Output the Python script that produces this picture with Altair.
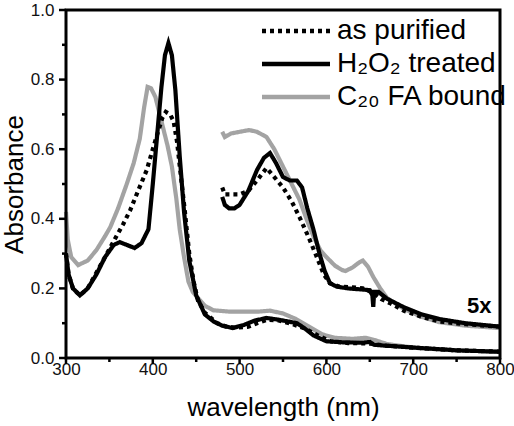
import altair as alt
import pandas as pd

SERIES = ["as purified", "H₂O₂ treated", "C₂₀ FA bound"]

# ---- full spectra (1x) ----
wl_pur = [300, 303, 308, 316, 325, 335, 345, 357, 366, 374, 383, 393, 400, 406, 411, 415, 420, 424, 428, 432, 437, 442, 447, 452, 460, 474, 485, 495, 510, 520, 532, 545, 560, 575, 590, 605, 625, 645, 655, 670, 700, 750, 800]
a_pur = [0.30, 0.24, 0.20, 0.18, 0.20, 0.245, 0.29, 0.345, 0.385, 0.425, 0.48, 0.54, 0.60, 0.65, 0.69, 0.707, 0.70, 0.68, 0.62, 0.53, 0.42, 0.30, 0.22, 0.165, 0.13, 0.10, 0.09, 0.087, 0.09, 0.10, 0.11, 0.108, 0.098, 0.085, 0.065, 0.048, 0.043, 0.042, 0.040, 0.035, 0.03, 0.022, 0.018]

wl_h2o2 = [300, 303, 308, 316, 325, 335, 345, 355, 362, 370, 379, 387, 395, 400, 405, 410, 414, 418, 422, 426, 431, 436, 442, 450, 460, 470, 480, 492, 505, 518, 531, 545, 556, 566, 575, 585, 600, 620, 640, 650, 655, 665, 700, 750, 800]
a_h2o2 = [0.30, 0.24, 0.20, 0.18, 0.20, 0.24, 0.29, 0.325, 0.333, 0.325, 0.316, 0.33, 0.37, 0.50, 0.64, 0.78, 0.87, 0.905, 0.87, 0.77, 0.58, 0.42, 0.28, 0.18, 0.125, 0.105, 0.093, 0.086, 0.095, 0.108, 0.115, 0.11, 0.105, 0.10, 0.085, 0.065, 0.048, 0.045, 0.044, 0.046, 0.038, 0.036, 0.03, 0.022, 0.018]

wl_fa = [300, 302, 306, 314, 325, 335, 345, 351, 360, 370, 378, 385, 390, 394, 398, 403, 408, 412, 417, 422, 427, 431, 436, 441, 446, 451, 460, 470, 490, 520, 535, 550, 565, 580, 595, 610, 630, 645, 655, 670, 700, 750, 800]
a_fa = [0.42, 0.34, 0.29, 0.267, 0.28, 0.31, 0.35, 0.376, 0.43, 0.50, 0.56, 0.63, 0.72, 0.779, 0.775, 0.75, 0.70, 0.66, 0.61, 0.55, 0.46, 0.37, 0.29, 0.22, 0.19, 0.175, 0.15, 0.137, 0.133, 0.133, 0.136, 0.128, 0.112, 0.09, 0.068, 0.058, 0.055, 0.058, 0.052, 0.04, 0.03, 0.022, 0.018]

# ---- 5x expanded visible region ----
wl_pur5 = [480, 483, 490, 500, 510, 520, 531, 540, 550, 560, 569, 579, 589, 597, 604, 615, 630, 642, 654, 663, 673, 690, 710, 730, 760, 800]
a_pur5 = [0.49, 0.47, 0.47, 0.47, 0.48, 0.51, 0.546, 0.52, 0.49, 0.45, 0.405, 0.35, 0.29, 0.24, 0.215, 0.205, 0.203, 0.20, 0.187, 0.17, 0.158, 0.135, 0.118, 0.105, 0.097, 0.09]

wl_h2o25 = [480, 483, 488, 494, 500, 510, 520, 528, 535, 542, 550, 558, 566, 572, 578, 585, 592, 598, 604, 612, 625, 640, 650, 653, 654, 655, 660, 670, 690, 710, 730, 760, 800]
a_h2o25 = [0.463, 0.44, 0.43, 0.43, 0.44, 0.48, 0.54, 0.575, 0.589, 0.56, 0.52, 0.51, 0.51, 0.49, 0.43, 0.37, 0.30, 0.25, 0.215, 0.205, 0.20, 0.197, 0.195, 0.18, 0.147, 0.19, 0.19, 0.17, 0.145, 0.125, 0.112, 0.10, 0.09]

wl_fa5 = [480, 483, 490, 500, 511, 520, 531, 540, 550, 560, 569, 577, 585, 593, 600, 610, 618, 622, 630, 638, 642, 648, 654, 662, 670, 690, 710, 730, 760, 800]
a_fa5 = [0.65, 0.635, 0.645, 0.65, 0.655, 0.65, 0.635, 0.60, 0.55, 0.50, 0.455, 0.40, 0.35, 0.31, 0.29, 0.265, 0.253, 0.25, 0.26, 0.275, 0.28, 0.262, 0.233, 0.20, 0.172, 0.14, 0.118, 0.103, 0.093, 0.086]

x_major = [300, 400, 500, 600, 700, 800]
x_minor = [350, 450, 550, 650, 750]
y_major = [0.0, 0.2, 0.4, 0.6, 0.8, 1.0]
y_minor = [0.1, 0.3, 0.5, 0.7, 0.9]

note_text = ["5x"]
note_wl = [776]
note_a = [0.13]

W, H = 434, 348
X0, X1 = x_major[0], x_major[-1]
Y0, Y1 = y_major[0], y_major[-1]
PX_X = W / (X1 - X0)   # pixels per nm
PX_Y = H / (Y1 - Y0)   # pixels per absorbance unit

rows = []
for name, part, wls, vals in [
    (SERIES[2], "fa1", wl_fa, a_fa),
    (SERIES[2], "fa5", wl_fa5, a_fa5),
    (SERIES[0], "pur1", wl_pur, a_pur),
    (SERIES[0], "pur5", wl_pur5, a_pur5),
    (SERIES[1], "h1", wl_h2o2, a_h2o2),
    (SERIES[1], "h5", wl_h2o25, a_h2o25),
]:
    for w, v in zip(wls, vals):
        rows.append({"wl": w, "A": v, "series": name, "part": part})
df = pd.DataFrame(rows)
notes = pd.DataFrame({"wl": note_wl, "A": note_a, "t": note_text})

# frame around the plot area, from the axis extents
frame_df = pd.DataFrame({"wl": [X0, X0, X1, X1, X0], "A": [Y0, Y1, Y1, Y0, Y0], "o": [0, 1, 2, 3, 4]})

# tick segments (outward), from the tick value lists
tick_rows = []
k = 0
for v in y_major:
    for w in (X0 - 7 / PX_X, X0):
        tick_rows.append({"wl": w, "A": v, "tid": k})
    k += 1
for v in y_minor:
    for w in (X0 - 4 / PX_X, X0):
        tick_rows.append({"wl": w, "A": v, "tid": k})
    k += 1
for v in x_major:
    for a in (Y0 - 6 / PX_Y, Y0):
        tick_rows.append({"wl": v, "A": a, "tid": k})
    k += 1
for v in x_minor:
    for a in (Y0 - 4 / PX_Y, Y0):
        tick_rows.append({"wl": v, "A": a, "tid": k})
    k += 1
ticks_df = pd.DataFrame(tick_rows)

FONT = "Liberation Sans"

xscale = alt.Scale(domain=[X0, X1], nice=False, zero=False)
yscale = alt.Scale(domain=[Y0, Y1], nice=False)

axis_style = dict(grid=False, labelFlush=False, domain=False, ticks=False,
                  labelFont=FONT, labelFontSize=17, labelColor="#111",
                  titleFont=FONT, titleFontSize=26, titleFontWeight="normal", titleColor="black")

lines = alt.Chart(df).mark_line(strokeWidth=4.2).encode(
    x=alt.X("wl:Q", scale=xscale, title="wavelength (nm)",
            axis=alt.Axis(values=x_major, labelPadding=3, titlePadding=17, **axis_style)),
    y=alt.Y("A:Q", scale=yscale, title="Absorbance",
            axis=alt.Axis(values=y_major, format=".1f", labelPadding=12, titlePadding=3, **axis_style)),
    color=alt.Color("series:N", scale=alt.Scale(domain=SERIES, range=["#000000", "#000000", "#a3a3a3"]),
                    legend=alt.Legend(title=None, orient="none", legendX=216, legendY=7,
                                      symbolType="M-4,0H4", symbolSize=289, symbolStrokeWidth=4.5,
                                      labelOffset=27, labelFontSize=28, labelFont=FONT, labelColor="#000",
                                      rowPadding=5, padding=0, labelLimit=300)),
    strokeDash=alt.StrokeDash("series:N", scale=alt.Scale(domain=SERIES, range=[[4, 4], [1, 0], [1, 0]]), legend=None),
    detail="part:N",
)

label = alt.Chart(notes).mark_text(fontSize=22, fontWeight="bold", font=FONT, align="center",
                                   baseline="alphabetic", color="#000").encode(
    x=alt.X("wl:Q", scale=xscale), y=alt.Y("A:Q", scale=yscale), text="t:N")

frame = alt.Chart(frame_df).mark_line(color="black", strokeWidth=3, strokeCap="square").encode(
    x=alt.X("wl:Q", scale=xscale), y=alt.Y("A:Q", scale=yscale), order="o:Q")

ticks = alt.Chart(ticks_df).mark_line(color="black", strokeWidth=2.5).encode(
    x=alt.X("wl:Q", scale=xscale), y=alt.Y("A:Q", scale=yscale), detail="tid:N")

chart = alt.layer(lines, label, frame, ticks).properties(
    width=W, height=H,
    autosize=alt.AutoSizeParams(type="none"),
    padding={"left": 66, "top": 10, "right": 14, "bottom": 68},
).configure_view(stroke=None)

chart.save("out.html", embed_options={"renderer": "svg", "actions": False})
